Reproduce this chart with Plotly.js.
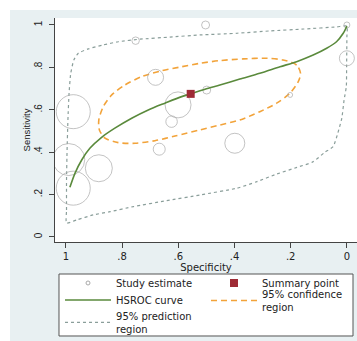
<!DOCTYPE html>
<html><head><meta charset="utf-8">
<script src="https://cdn.plot.ly/plotly-3.0.1.min.js"></script>
<style>html,body{margin:0;padding:0;background:#ffffff;}#chart{position:absolute;left:10px;top:10px;width:347px;height:331px;}</style>
</head><body><div id="chart"></div>
<script>
// Study estimates (specificity, sensitivity, relative weight shown as circle diameter)
const studySpec = [0.503, 0.000, 0.752, 0.000, 0.681, 0.499, 0.202, 0.601, 0.624, 0.974, 0.668, 0.399, 0.990, 0.883, 0.974];
const studySens = [1.000, 1.000, 0.926, 0.843, 0.753, 0.693, 0.670, 0.623, 0.544, 0.591, 0.414, 0.442, 0.365, 0.324, 0.230];
const studyWeight = [8, 6, 7.5, 15, 16, 8, 5, 26, 11.5, 34, 12, 20, 32, 27, 34];

// Summary point
const summarySpec = [0.556];
const summarySens = [0.675];

// HSROC curve
const hsrocSpec = [0.986,0.968,0.944,0.915,0.873,0.826,0.766,0.707,0.648,0.588,0.556,0.505,0.452,0.381,0.310,0.238,0.179,0.120,0.072,0.037,0.013,0.000];
const hsrocSens = [0.234,0.300,0.363,0.418,0.470,0.513,0.560,0.599,0.631,0.662,0.675,0.697,0.717,0.745,0.772,0.803,0.827,0.858,0.890,0.921,0.961,0.995];

// 95% confidence region
const confSpec = [0.165,0.179,0.227,0.286,0.369,0.452,0.523,0.588,0.659,0.731,0.790,0.837,0.867,0.883,0.881,0.861,0.814,0.754,0.683,0.612,0.523,0.452,0.381,0.310,0.250,0.203,0.173,0.165];
const confSens = [0.772,0.811,0.835,0.843,0.840,0.832,0.819,0.803,0.784,0.756,0.717,0.670,0.615,0.552,0.505,0.466,0.445,0.442,0.454,0.476,0.505,0.528,0.552,0.591,0.631,0.678,0.733,0.772];

// 95% prediction region
const predSpec = [0.998,0.998,0.998,0.996,0.993,0.989,0.983,0.972,0.956,0.921,0.867,0.814,0.737,0.630,0.523,0.391,0.274,0.153,0.036,0.000,0.000,0.001,0.002,0.010,0.018,0.032,0.049,0.078,0.121,0.178,0.249,0.320,0.391,0.523,0.642,0.760,0.843,0.903,0.962,0.998];
const predSens = [0.065,0.127,0.269,0.410,0.552,0.678,0.772,0.835,0.867,0.887,0.906,0.921,0.933,0.943,0.953,0.961,0.972,0.981,0.991,0.995,0.945,0.803,0.709,0.646,0.561,0.491,0.426,0.400,0.354,0.328,0.297,0.261,0.230,0.198,0.171,0.143,0.119,0.104,0.080,0.065];

// Tick labels
const xTickVals = [0, 0.2, 0.4, 0.6, 0.8, 1];
const xTickText = ['0', '.2', '.4', '.6', '.8', '1'];
const yTickVals = [0, 0.2, 0.4, 0.6, 0.8, 1];
const yTickText = ['0', '.2', '.4', '.6', '.8', '1'];

// Legend labels
const legendLabels = ['Study estimate', 'Summary point', 'HSROC curve', '95% confidence<br>region', '95% prediction<br>region'];

const FONT_H = 'DejaVu Sans, Liberation Sans, Arial, sans-serif';
const FONT_V = 'Liberation Sans, Arial, sans-serif';

const traces = [
  {x: predSpec, y: predSens, type: 'scatter', mode: 'lines', name: legendLabels[4], legend: 'legend5',
   line: {color: '#8a9e9a', width: 1.2, dash: 'dot', shape: 'spline', smoothing: 0.5}, hoverinfo: 'skip'},
  {x: confSpec, y: confSens, type: 'scatter', mode: 'lines', name: legendLabels[3], legend: 'legend4',
   line: {color: '#f2a33a', width: 1.6, dash: '6px,4px', shape: 'spline', smoothing: 0.8}, hoverinfo: 'skip'},
  {x: studySpec, y: studySens, type: 'scatter', mode: 'markers', name: legendLabels[0], showlegend: false,
   marker: {symbol: 'circle-open', size: studyWeight, color: '#a9a9a9', line: {width: 1}}},
  {x: [null], y: [null], type: 'scatter', mode: 'markers', name: legendLabels[0], legend: 'legend',
   marker: {symbol: 'circle-open', size: 4, color: '#a9a9a9', line: {width: 1}}},
  {x: hsrocSpec, y: hsrocSens, type: 'scatter', mode: 'lines', name: legendLabels[2], legend: 'legend3',
   line: {color: '#5a8a3c', width: 1.6, shape: 'spline', smoothing: 0.8}},
  {x: summarySpec, y: summarySens, type: 'scatter', mode: 'markers', name: legendLabels[1], legend: 'legend2',
   marker: {symbol: 'square', size: 8, color: '#9e2b35', line: {width: 0}}}
];

const legBase = (x, y) => ({
  x: x, y: y, xanchor: 'left', yanchor: 'middle', orientation: 'v',
  bgcolor: 'rgba(0,0,0,0)', borderwidth: 0, itemwidth: 46,
  font: {family: FONT_H, size: 10, color: '#222'}
});

const layout = {
  width: 347, height: 331,
  margin: {l: 45, r: 0, t: 8, b: 99, autoexpand: false},
  paper_bgcolor: '#e8f0f2',
  plot_bgcolor: '#ffffff',
  xaxis: {
    range: [1.039, -0.036], tickvals: xTickVals, ticktext: xTickText,
    showgrid: false, zeroline: false, showline: true, linecolor: '#444', linewidth: 1,
    ticks: 'outside', ticklen: 5, tickcolor: '#444', tickwidth: 1,
    tickfont: {family: FONT_H, size: 10, color: '#222'},
    title: {text: 'Specificity', font: {family: FONT_H, size: 10, color: '#222'}, standoff: 0}
  },
  yaxis: {
    range: [-0.024, 1.033], tickvals: yTickVals, ticktext: yTickText, tickangle: -90,
    ticklabelstandoff: 3,
    showgrid: false, zeroline: false, showline: true, linecolor: '#444', linewidth: 1,
    ticks: 'outside', ticklen: 5, tickcolor: '#444', tickwidth: 1,
    tickfont: {family: FONT_V, size: 10, color: '#222'},
    title: {text: 'Sensitivity', font: {family: FONT_V, size: 9.5, color: '#222'}, standoff: 0}
  },
  legend: legBase(0.0166, -0.183),
  legend2: legBase(0.5, -0.183),
  legend3: legBase(0.0166, -0.259),
  legend4: legBase(0.5, -0.261),
  legend5: legBase(0.0166, -0.359),
  shapes: [{type: 'rect', xref: 'paper', yref: 'paper', x0: 0.0132, x1: 0.9868, y0: -0.1429, y1: -0.4196,
            line: {color: '#555', width: 1}, fillcolor: '#ffffff', layer: 'below'}],
  showlegend: true
};

Plotly.newPlot('chart', traces, layout, {displayModeBar: false, staticPlot: true});
</script></body></html>
